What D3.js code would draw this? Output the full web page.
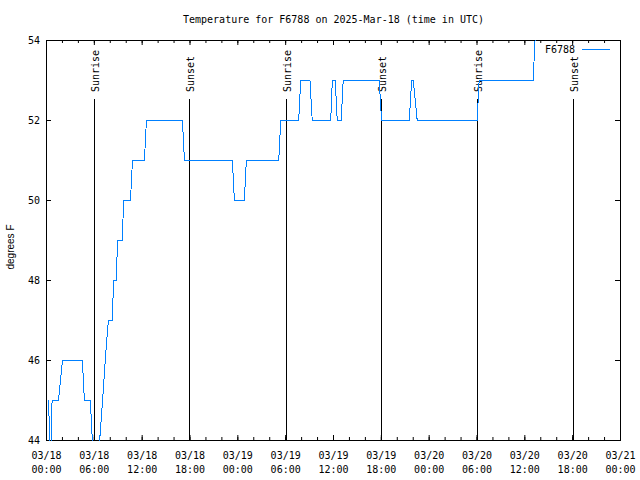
<!DOCTYPE html>
<html><head><meta charset="utf-8">
<script src="https://cdn.jsdelivr.net/npm/d3@7"></script>
<style>body{margin:0;background:#fff} svg{display:block}</style>
</head><body><svg id="c" width="640" height="480"></svg>
<script>
const chartTitle = "Temperature for F6788 on 2025-Mar-18 (time in UTC)";
const yLabel = "degrees F";
const seriesName = "F6788";

const times = [
  "2025-03-18T00:15","2025-03-18T00:30","2025-03-18T00:42","2025-03-18T01:30","2025-03-18T02:00",
  "2025-03-18T04:30","2025-03-18T04:45","2025-03-18T05:30","2025-03-18T06:00","2025-03-18T06:20",
  "2025-03-18T06:40","2025-03-18T07:00","2025-03-18T07:20","2025-03-18T07:40","2025-03-18T07:47",
  "2025-03-18T08:16","2025-03-18T08:24","2025-03-18T08:46","2025-03-18T08:54","2025-03-18T09:32",
  "2025-03-18T09:39","2025-03-18T10:32","2025-03-18T10:47","2025-03-18T12:17","2025-03-18T12:32",
  "2025-03-18T17:03","2025-03-18T17:18","2025-03-18T23:19","2025-03-18T23:34","2025-03-19T00:49",
  "2025-03-19T01:04","2025-03-19T05:08","2025-03-19T05:23","2025-03-19T07:38","2025-03-19T07:53",
  "2025-03-19T09:03","2025-03-19T09:20","2025-03-19T11:39","2025-03-19T11:51","2025-03-19T12:13",
  "2025-03-19T12:28","2025-03-19T12:58","2025-03-19T13:13","2025-03-19T17:44","2025-03-19T18:02",
  "2025-03-19T21:30","2025-03-19T21:48","2025-03-19T22:00","2025-03-19T22:30","2025-03-20T06:01",
  "2025-03-20T06:16","2025-03-20T13:02","2025-03-20T13:32","2025-03-20T16:00"
];
const temps = [
  45, 43.5, 45, 45, 46,
  46, 45, 45, 43, 43,
  44, 44.9, 45.9, 46.8, 47,
  47, 48, 48, 49, 49,
  50, 50, 51, 51, 52,
  52, 51, 51, 50, 50,
  51, 51, 52, 52, 53,
  53, 52, 52, 53, 53,
  52, 52, 53, 53, 52,
  52, 53, 53, 52, 52,
  53, 53, 55, 55
];

const sunriseTimes = ["2025-03-18T06:02","2025-03-19T06:04","2025-03-20T06:01"];
const sunsetTimes  = ["2025-03-18T17:56","2025-03-19T18:02","2025-03-20T18:03"];

const yTicks = [44, 46, 48, 50, 52, 54];
const xTickTimes = [
  "2025-03-18T00:00","2025-03-18T06:00","2025-03-18T12:00","2025-03-18T18:00",
  "2025-03-19T00:00","2025-03-19T06:00","2025-03-19T12:00","2025-03-19T18:00",
  "2025-03-20T00:00","2025-03-20T06:00","2025-03-20T12:00","2025-03-20T18:00",
  "2025-03-21T00:00"
];

const parse = d3.utcParse("%Y-%m-%dT%H:%M");
const data = times.map((t, i) => ({t: parse(t), v: temps[i]}));
const xTicks = xTickTimes.map(parse);
const minorTicks = d3.utcHour.every(2).range(xTicks[0], d3.utcMinute.offset(xTicks[xTicks.length-1], 1));

const L = 46, R = 620, T = 40, B = 440;
const x = d3.scaleUtc().domain([xTicks[0], xTicks[xTicks.length-1]]).range([L, R]);
const y = d3.scaleLinear().domain([44, 54]).range([B, T]);

const svg = d3.select("#c");
const mono = "'DejaVu Sans Mono', monospace";
const C = "#0080ff";

svg.append("defs").append("clipPath").attr("id","clip")
  .append("rect").attr("x", L).attr("y", T).attr("width", R-L+1).attr("height", B-T+1);

const fmtD = d3.utcFormat("%m/%d"), fmtT = d3.utcFormat("%H:%M");
function styleAxis(g){ g.select(".domain").remove(); g.selectAll("line").attr("stroke","#000"); g.attr("font-family", mono).attr("font-size", 10); }

const gxB = svg.append("g").attr("transform",`translate(0,${B})`)
  .call(d3.axisBottom(x).tickValues(minorTicks).tickSize(-3).tickFormat(""));
styleAxis(gxB);
const gxBm = svg.append("g").attr("transform",`translate(0,${B})`)
  .call(d3.axisBottom(x).tickValues(xTicks).tickSize(-5).tickFormat(fmtD));
styleAxis(gxBm);
gxBm.selectAll(".tick text").each(function(d){
  const t = d3.select(this);
  t.text(null).attr("y", 0).attr("dy", null).attr("fill","#000");
  t.append("tspan").attr("x", 0).attr("y", 19).text(fmtD(d));
  t.append("tspan").attr("x", 0).attr("y", 33).text(fmtT(d));
});
const gxT = svg.append("g").attr("transform",`translate(0,${T})`)
  .call(d3.axisTop(x).tickValues(minorTicks).tickSize(-3).tickFormat(""));
styleAxis(gxT);
const gxTm = svg.append("g").attr("transform",`translate(0,${T})`)
  .call(d3.axisTop(x).tickValues(xTicks).tickSize(-5).tickFormat(""));
styleAxis(gxTm);

const gyL = svg.append("g").attr("transform",`translate(${L},0)`)
  .call(d3.axisLeft(y).tickValues(yTicks).tickSize(-5).tickPadding(6).tickFormat(d3.format("d")));
styleAxis(gyL);
gyL.selectAll("text").attr("fill","#000");
const gyR = svg.append("g").attr("transform",`translate(${R},0)`)
  .call(d3.axisRight(y).tickValues(yTicks).tickSize(-5).tickFormat(""));
styleAxis(gyR);

svg.append("rect").attr("x", L+0.5).attr("y", T+0.5).attr("width", R-L).attr("height", B-T)
  .attr("fill","none").attr("stroke","#000").attr("stroke-width",1).attr("shape-rendering","crispEdges");

const events = sunriseTimes.map(s => ({t: parse(s), label: "Sunrise"}))
  .concat(sunsetTimes.map(s => ({t: parse(s), label: "Sunset"})));
const ev = svg.append("g");
events.forEach(e => {
  const xx = Math.round(x(e.t)) + 0.5;
  ev.append("line").attr("x1", xx).attr("x2", xx).attr("y1", 99).attr("y2", B)
    .attr("stroke","#000").attr("stroke-width",1).attr("shape-rendering","crispEdges");
  ev.append("text").attr("transform", `translate(${xx+4},92) rotate(-90)`)
    .attr("font-family", mono).attr("font-size", 10).attr("text-anchor","start").attr("fill","#000")
    .text(e.label);
});

const line = d3.line().x(d => x(d.t)).y(d => y(d.v));
svg.append("g").attr("clip-path","url(#clip)").append("path")
  .datum(data).attr("transform","translate(0.5,0.5)")
  .attr("d", line).attr("fill","none").attr("stroke", C).attr("stroke-width", 1)
  .attr("shape-rendering","crispEdges");

svg.append("text").attr("x", (L+R)/2 + 0.5).attr("y", 23).attr("text-anchor","middle")
  .attr("font-family", mono).attr("font-size", 10).attr("fill","#000").text(chartTitle);

svg.append("text").attr("transform","translate(14,247) rotate(-90)").attr("text-anchor","middle")
  .attr("font-family","'Liberation Sans', Arial, sans-serif").attr("font-size", 10).attr("fill","#000").text(yLabel);

svg.append("text").attr("x", 575).attr("y", 53).attr("text-anchor","end")
  .attr("font-family", mono).attr("font-size", 10).attr("fill","#000").text(seriesName);
svg.append("line").attr("x1", 582).attr("x2", 610).attr("y1", 49.5).attr("y2", 49.5)
  .attr("stroke", C).attr("stroke-width", 1);
</script></body></html>
